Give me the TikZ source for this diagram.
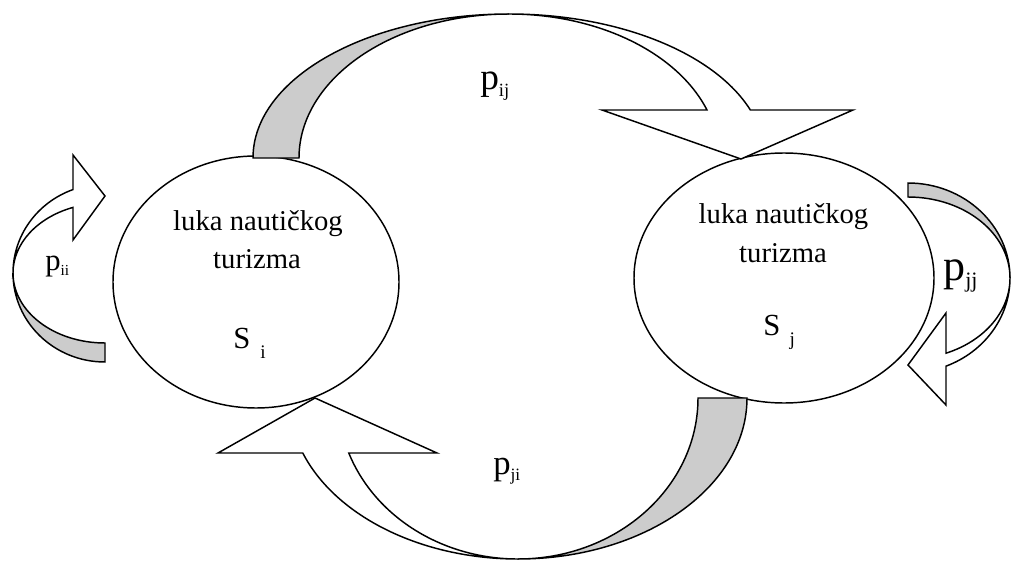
\documentclass[tikz,border=0pt]{standalone}
\usepackage{fontspec}
\setmainfont{Liberation Serif}
\usepackage{tikz}
\usetikzlibrary{positioning, shapes.geometric, calc}
\tikzstyle{port} = [ellipse, draw=black, line width=1.1pt, inner sep=0pt]
\tikzstyle{band} = [draw=black, line width=1.1pt, fill=black!20]
\tikzstyle{head} = [draw=black, line width=1.1pt, fill=white]
\tikzstyle{txt} = [inner sep=0pt, anchor=base, font=\fontsize{21.5}{26}\selectfont]
\tikzstyle{lbl} = [inner sep=0pt, anchor=base west]
\newcommand{\lowidx}[2][0.18em]{\raisebox{-#1}{\scalebox{0.5}{#2}}}

\begin{document}
\begin{tikzpicture}[x=0.75pt, y=0.75pt]
  \useasboundingbox (0,0) rectangle (1011,562);
  %两个状态
  \node (Si) [port, minimum width=214.5pt, minimum height=189pt] at (256,280) {};
  \node (Sj) [port, minimum width=225pt, minimum height=187.5pt] at (784,284) {};
  \node (Si1) [txt] at (258,332) {luka nautičkog};
  \node (Si2) [txt] at (257,294) {turizma};
  \node (Si3) [lbl, font=\fontsize{23}{27}\selectfont] at (233,214) {S\kern0.33em\lowidx[0.33em]{\scalebox{1.25}{i}}};
  \node (Sj1) [txt] at (783.5,339) {luka nautičkog};
  \node (Sj2) [txt] at (783,300) {turizma};
  \node (Sj3) [lbl, font=\fontsize{23}{27}\selectfont] at (763,227) {S\kern0.3em\lowidx[0.33em]{\scalebox{1.25}{j}}};

  %上方箭头 i -> j
  \draw [band] (253,404) arc[start angle=180, end angle=90, x radius=256, y radius=144]
    arc[start angle=90, end angle=180, x radius=210, y radius=144] -- cycle;
  \draw [head] (509,548) arc[start angle=90, end angle=19.47, x radius=256, y radius=144]
    -- (853,452) -- (741,403) -- (602,452) -- (707,452)
    arc[start angle=19.47, end angle=90, x radius=210, y radius=144] -- cycle;
  \node (pij) [lbl, font=\fontsize{28}{33}\selectfont] at (480,472) {p\lowidx{ij}};

  %下方箭头 j -> i
  \draw [band] (747,164) arc[start angle=0, end angle=-90, x radius=229, y radius=161]
    arc[start angle=-90, end angle=0, x radius=180, y radius=161] -- cycle;
  \draw [head] (518,3) arc[start angle=-90, end angle=-160.03, x radius=229, y radius=161]
    -- (218,109) -- (315,164) -- (437,109) -- (348.8,109)
    arc[start angle=-160.03, end angle=-90, x radius=180, y radius=161] -- cycle;
  \node (pji) [lbl, font=\fontsize{26}{31}\selectfont] at (493,88) {p\lowidx{ji}};

  %左侧自环 i -> i
  \draw [band] (105,200) arc[start angle=270, end angle=180, x radius=92, y radius=89]
    arc[start angle=180, end angle=270, x radius=92, y radius=70] -- cycle;
  \draw [head] (13,289) arc[start angle=180, end angle=110.35, x radius=92, y radius=89]
    -- (73,407) -- (105,366) -- (73,322) -- (73,354.6)
    arc[start angle=110.35, end angle=180, x radius=92, y radius=70] -- cycle;
  \node (pii) [lbl, font=\fontsize{23}{27}\selectfont] at (45,292) {p\lowidx{ii}};

  %右侧自环 j -> j
  \draw [band] (908,379) arc[start angle=90, end angle=0, x radius=102, y radius=95]
    arc[start angle=0, end angle=90, x radius=102, y radius=81] -- cycle;
  \draw [head] (1010,284) arc[start angle=0, end angle=-68.13, x radius=102, y radius=95]
    -- (946,157) -- (908,197) -- (946,249) -- (946,208.8)
    arc[start angle=-68.13, end angle=0, x radius=102, y radius=81] -- cycle;
  \node (pjj) [lbl, font=\fontsize{33}{39}\selectfont] at (943,282) {p\lowidx{jj}};
\end{tikzpicture}
\end{document}
